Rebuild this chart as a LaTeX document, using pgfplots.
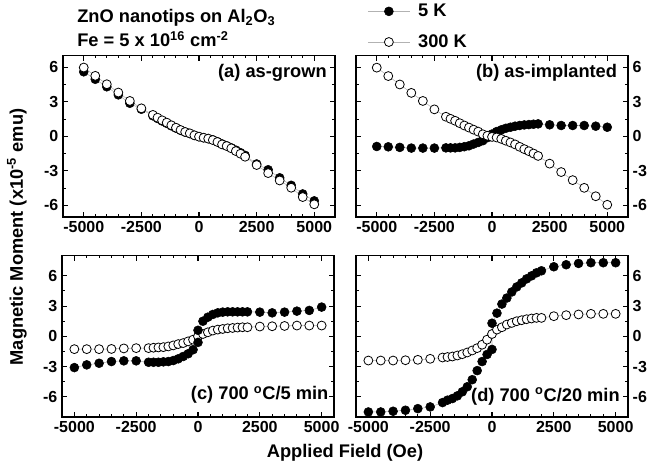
\documentclass[border=0pt]{standalone}
\usepackage{pgfplots}
\pgfplotsset{compat=1.18}
\usepackage{fontspec}
\setmainfont{Liberation Sans}

\newcommand{\lbl}{\fontsize{13.7}{16}\selectfont\bfseries}

\pgfplotsset{
  panel/.style={
    scale only axis, width=204pt, height=121pt,
    anchor=south west,
    xmin=-5900, xmax=5900,
    xtick={-5000,-2500,0,2500,5000},
    xticklabels={-5000,-2500,0,2500,5000},
    ytick={-6,-3,0,3,6},
    yticklabels={-6,-3,0,3,6},
    minor x tick num=4, minor y tick num=1,
    tick align=inside,
    major tick length=3.8pt, minor tick length=2pt,
    every tick/.style={black, line width=0.8pt},
    axis line style={line width=1.1pt},
    tick label style={font=\fontsize{12}{14}\selectfont\bfseries},
    clip=false,
  },
  s5/.style={gray!60, line width=0.4pt, mark=*, mark size=3.35pt,
    mark options={solid, fill=black, draw=black}},
  s300/.style={gray!60, line width=0.4pt, mark=*, mark size=3.35pt,
    mark options={solid, fill=white, draw=black, line width=0.6pt}},
}

\begin{document}
\begin{tikzpicture}
\path[use as bounding box] (0,0) rectangle (494.25pt,350.25pt);

% (a) as-grown
\begin{axis}[panel, at={(47.25pt,187.5pt)}, ymin=-7, ymax=7]
\addplot[s5] coordinates {(-5000,5.60)(-4500,4.95)(-4000,4.30)(-3500,3.60)(-3000,2.87)(-2500,2.35)(-2000,1.78)(-1800,1.55)(-1600,1.33)(-1400,1.13)(-1200,0.91)(-1000,0.71)(-800,0.52)(-600,0.36)(-400,0.24)(-200,0.08)(0,-0.03)(200,-0.12)(400,-0.20)(600,-0.31)(800,-0.47)(1000,-0.66)(1200,-0.82)(1400,-1.00)(1600,-1.20)(1800,-1.42)(2000,-1.65)(2500,-2.40)(3000,-2.90)(3500,-3.60)(4000,-4.25)(4500,-5.00)(5000,-5.60)};
\addplot[s300] coordinates {(-5000,5.97)(-4500,5.25)(-4000,4.52)(-3500,3.80)(-3000,3.07)(-2500,2.43)(-2000,1.86)(-1800,1.62)(-1600,1.39)(-1400,1.19)(-1200,0.96)(-1000,0.75)(-800,0.55)(-600,0.38)(-400,0.26)(-200,0.09)(0,-0.03)(200,-0.12)(400,-0.20)(600,-0.32)(800,-0.49)(1000,-0.70)(1200,-0.84)(1400,-1.04)(1600,-1.28)(1800,-1.51)(2000,-1.77)(2500,-2.49)(3000,-3.19)(3500,-3.83)(4000,-4.46)(4500,-5.27)(5000,-5.90)};
\node[anchor=north east, inner sep=0pt, font=\lbl, xshift=-6pt, yshift=-6pt] at (rel axis cs:1,1) {(a) as-grown};
\end{axis}

% (b) as-implanted
\begin{axis}[panel, at={(267pt,187.5pt)}, ymin=-7, ymax=7, yticklabel pos=right,
  legend style={draw=none, fill=none, inner sep=0pt, at={(axis description cs:0,1)},
    anchor=south west, xshift=8.5pt, yshift=2.5pt, font=\lbl, row sep=8pt, column sep=4pt},
  legend cell align=left,
  legend image code/.code={\draw[mark repeat=2,mark phase=2] plot coordinates {(0pt,0pt) (15.75pt,0pt) (31.5pt,0pt)};}]
\addplot[s5] coordinates {(-5000,-0.88)(-4500,-0.91)(-4000,-0.96)(-3500,-1.02)(-3000,-1.02)(-2500,-1.02)(-2000,-1.00)(-1800,-1.00)(-1600,-1.00)(-1400,-0.96)(-1200,-0.90)(-1000,-0.82)(-800,-0.67)(-600,-0.53)(-400,-0.38)(-200,-0.12)(0,0.20)(200,0.41)(400,0.56)(600,0.70)(800,0.79)(1000,0.88)(1200,0.94)(1400,0.99)(1600,1.02)(1800,1.05)(2000,1.08)(2500,1.00)(3000,0.94)(3500,0.94)(4000,0.94)(4500,0.88)(5000,0.79)};
\addlegendentry{5 K}
\addplot[s300] coordinates {(-5000,5.96)(-4500,5.23)(-4000,4.50)(-3500,3.77)(-3000,3.07)(-2500,2.34)(-2000,1.70)(-1800,1.52)(-1600,1.35)(-1400,1.14)(-1200,0.94)(-1000,0.76)(-800,0.58)(-600,0.41)(-400,0.18)(-200,0.05)(0,-0.05)(200,-0.10)(400,-0.22)(600,-0.38)(800,-0.53)(1000,-0.70)(1200,-0.91)(1400,-1.11)(1600,-1.29)(1800,-1.49)(2000,-1.70)(2500,-2.37)(3000,-3.10)(3500,-3.80)(4000,-4.47)(4500,-5.20)(5000,-5.94)};
\addlegendentry{300 K}
\node[anchor=north east, inner sep=0pt, font=\lbl, xshift=-8pt, yshift=-6pt] at (rel axis cs:1,1) {(b) as-implanted};
\end{axis}

% (c) 700 C / 5 min
\begin{axis}[panel, at={(46.5pt,37.5pt)}, ymin=-8, ymax=8, xmin=-5500, xmax=5500]
\addplot[s300] coordinates {(-5000,-1.27)(-4500,-1.27)(-4000,-1.27)(-3500,-1.25)(-3000,-1.20)(-2500,-1.17)(-2000,-1.17)(-1800,-1.13)(-1600,-1.10)(-1400,-1.07)(-1200,-1.00)(-1000,-0.90)(-800,-0.77)(-600,-0.67)(-400,-0.50)(-200,-0.33)(0,0.00)(200,0.23)(400,0.40)(600,0.57)(800,0.67)(1000,0.73)(1200,0.80)(1400,0.83)(1600,0.87)(1800,0.90)(2000,0.90)(2500,0.97)(3000,1.00)(3500,1.03)(4000,1.07)(4500,1.07)(5000,1.07)};
\addplot[s5] coordinates {(-5000,-3.10)(-4500,-2.83)(-4000,-2.67)(-3500,-2.50)(-3000,-2.43)(-2500,-2.43)(-2000,-2.57)(-1800,-2.57)(-1600,-2.57)(-1400,-2.53)(-1200,-2.50)(-1000,-2.40)(-800,-2.23)(-600,-2.00)(-400,-1.73)(-200,-1.33)(0,-0.60)(0,0.60)(200,1.50)(400,1.90)(600,2.17)(800,2.33)(1000,2.40)(1200,2.43)(1400,2.43)(1600,2.43)(1800,2.43)(2000,2.43)(2500,2.40)(3000,2.33)(3500,2.40)(4000,2.50)(4500,2.57)(5000,2.90)};
\node[anchor=base east, inner sep=0pt, font=\lbl, xshift=-4pt, yshift=12.75pt] at (rel axis cs:1,0) {(c) 700 \textsuperscript{o}C/5 min};
\end{axis}

% (d) 700 C / 20 min
\begin{axis}[panel, at={(267pt,37.5pt)}, ymin=-8, ymax=8, xmin=-5500, xmax=5500, yticklabel pos=right]
\addplot[s300] coordinates {(-5000,-2.40)(-4500,-2.40)(-4000,-2.40)(-3500,-2.37)(-3000,-2.33)(-2500,-2.23)(-2000,-2.10)(-1800,-2.05)(-1600,-2.00)(-1400,-1.90)(-1200,-1.77)(-1000,-1.60)(-800,-1.40)(-600,-1.17)(-400,-0.83)(-200,-0.33)(0,0.23)(200,0.67)(400,0.90)(600,1.17)(800,1.33)(1000,1.50)(1200,1.60)(1400,1.70)(1600,1.77)(1800,1.83)(2000,1.83)(2500,2.00)(3000,2.10)(3500,2.17)(4000,2.23)(4500,2.23)(5000,2.23)};
\addplot[s5] coordinates {(-5000,-7.50)(-4500,-7.50)(-4000,-7.43)(-3500,-7.33)(-3000,-7.17)(-2500,-7.00)(-2000,-6.57)(-1800,-6.33)(-1600,-6.17)(-1400,-5.90)(-1200,-5.50)(-1000,-5.00)(-800,-4.30)(-600,-3.40)(-400,-2.50)(-200,-1.80)(0,-1.30)(0,1.30)(200,2.30)(400,3.20)(600,3.80)(800,4.40)(1000,4.90)(1200,5.30)(1400,5.70)(1600,6.00)(1800,6.30)(2000,6.50)(2500,6.90)(3000,7.10)(3500,7.23)(4000,7.30)(4500,7.30)(5000,7.30)};
\node[anchor=base east, inner sep=0pt, font=\lbl, xshift=-6pt, yshift=12pt] at (rel axis cs:1,0) {(d) 700 \textsuperscript{o}C/20 min};
\end{axis}

\node[anchor=base west, inner sep=0pt, font=\lbl] at (57.75pt,333pt) {ZnO nanotips on Al\textsubscript{2}O\textsubscript{3}};
\node[anchor=base west, inner sep=0pt, font=\lbl] at (57.75pt,315pt) {Fe = 5 x 10\textsuperscript{16} cm\textsuperscript{-2}};
\node[rotate=90, font=\lbl] at (12.75pt,172.5pt) {Magnetic Moment (x10\textsuperscript{-5} emu)};
\node[font=\lbl] at (258.75pt,10.5pt) {Applied Field (Oe)};
\end{tikzpicture}
\end{document}
